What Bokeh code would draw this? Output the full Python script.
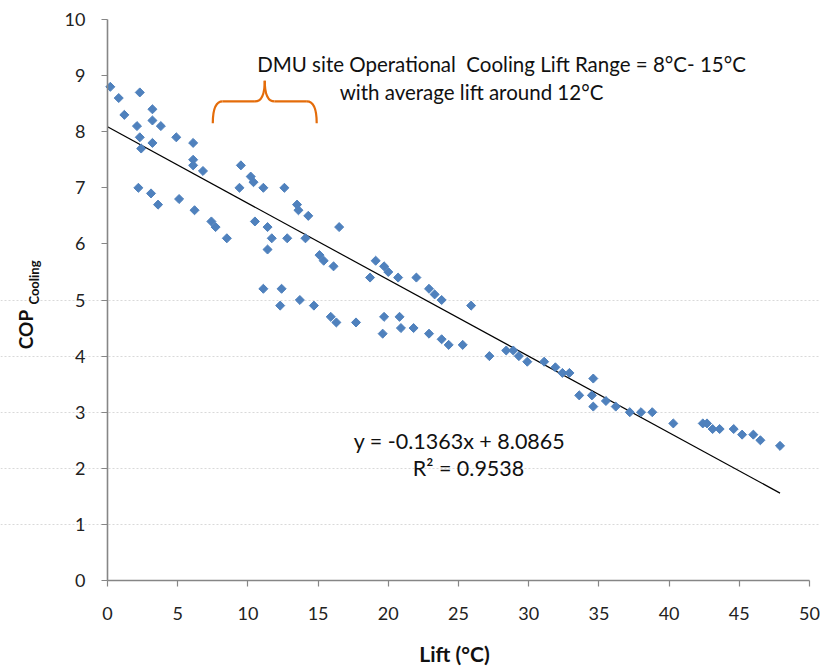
from bokeh.plotting import figure
from bokeh.models import Range1d, FixedTicker, Label, ColumnDataSource
from bokeh.embed import file_html
from bokeh.resources import INLINE
import numpy as np

# ---- data ----
lift = [0.2, 0.8, 1.2, 2.3, 2.1, 3.2, 3.2, 3.8, 2.3, 4.9, 6.1, 3.2, 2.4, 6.1, 6.1, 6.8,
        9.5, 10.2, 10.4, 9.4, 11.1, 12.6, 13.5, 13.6, 14.3, 10.5, 11.4, 11.7, 12.8, 14.1,
        16.5, 11.4, 15.1, 15.4, 16.1, 19.1, 19.7, 20.0, 18.7, 20.7, 22.0, 22.9, 23.3,
        23.8, 25.9,
        2.2, 3.1, 3.6, 5.1, 6.2, 7.4, 7.7, 8.5, 11.1, 12.4, 12.3, 13.7, 14.7, 15.9, 16.3,
        17.7, 19.7, 20.8, 19.6, 20.9, 21.8, 22.9, 23.8, 24.3, 25.3, 27.2, 28.4, 28.9,
        29.3, 29.9, 31.1, 31.9, 32.4, 32.9, 34.6, 33.6, 34.5, 34.6, 35.5, 36.2, 37.2,
        38.0, 38.8, 40.3, 42.4, 42.7, 43.1, 43.6, 44.6, 45.2, 46.0, 46.5, 47.9]
cop = [8.8, 8.6, 8.3, 8.7, 8.1, 8.4, 8.2, 8.1, 7.9, 7.9, 7.8, 7.8, 7.7, 7.5, 7.4, 7.3,
       7.4, 7.2, 7.1, 7.0, 7.0, 7.0, 6.7, 6.6, 6.5, 6.4, 6.3, 6.1, 6.1, 6.1,
       6.3, 5.9, 5.8, 5.7, 5.6, 5.7, 5.6, 5.5, 5.4, 5.4, 5.4, 5.2, 5.1,
       5.0, 4.9,
       7.0, 6.9, 6.7, 6.8, 6.6, 6.4, 6.3, 6.1, 5.2, 5.2, 4.9, 5.0, 4.9, 4.7, 4.6,
       4.6, 4.7, 4.7, 4.4, 4.5, 4.5, 4.4, 4.3, 4.2, 4.2, 4.0, 4.1, 4.1,
       4.0, 3.9, 3.9, 3.8, 3.7, 3.7, 3.6, 3.3, 3.3, 3.1, 3.2, 3.1, 3.0,
       3.0, 3.0, 2.8, 2.8, 2.8, 2.7, 2.7, 2.7, 2.6, 2.6, 2.5, 2.4]
slope = -0.1363
intercept = 8.0865
r2 = 0.9538
x_ticks = [0, 5, 10, 15, 20, 25, 30, 35, 40, 45, 50]
y_ticks = [0, 1, 2, 3, 4, 5, 6, 7, 8, 9, 10]
grid_ticks = [1, 2, 3, 4, 5]
brace_range = [7.5, 14.9]   # operational lift range marked by the brace

FONT = "Lato"
BLUE = "#4F81BD"
ORANGE = "#E46C0A"
AX = "#868686"
TXT = "#111111"

# the frame fills the whole canvas; axes are pinned at x=0 / y=0 and bounded
W, H = 820, 669
LEFT, RIGHT, TOP, BOTTOM = 107, 11, 19, 89
xpx = (W - RIGHT - LEFT) / 50.0
ypx = (H - TOP - BOTTOM) / 10.0
x_start = -LEFT / xpx
x_end = 50 + RIGHT / xpx
y_start = -BOTTOM / ypx
y_end = 10 + TOP / ypx

p = figure(width=W, height=H, output_backend="svg", toolbar_location=None,
           x_range=Range1d(x_start, x_end), y_range=Range1d(y_start, y_end),
           min_border_left=0, min_border_right=0, min_border_top=0,
           min_border_bottom=0)
p.outline_line_color = None
p.background_fill_color = "white"
p.border_fill_color = "white"

for ax in (p.xaxis[0], p.yaxis[0]):
    ax.fixed_location = 0
    ax.axis_line_color = AX
    ax.axis_line_width = 1.6
    ax.major_tick_line_color = AX
    ax.major_tick_line_width = 1.2
    ax.major_tick_out = 6
    ax.major_tick_in = 0
    ax.minor_tick_line_color = None
    ax.major_label_text_font = FONT
    ax.major_label_text_font_size = "18px"
    ax.major_label_text_color = "#222222"
p.xaxis.ticker = FixedTicker(ticks=x_ticks)
p.yaxis.ticker = FixedTicker(ticks=y_ticks)
p.xaxis.bounds = (0, 50)
p.yaxis.bounds = (0, 10)
p.xaxis.major_label_standoff = 20
p.yaxis.major_label_standoff = 16

p.xgrid.grid_line_color = None
p.ygrid.ticker = FixedTicker(ticks=grid_ticks)
p.ygrid.bounds = (0, 50)
p.ygrid.grid_line_color = "#D9D9D9"
p.ygrid.grid_line_dash = "2 2"
p.ygrid.grid_line_width = 1


def px_x(px):
    return (px - LEFT) / xpx


def px_y(py):
    return (H - BOTTOM - py) / ypx


# axis titles
p.add_layout(Label(x=px_x(454), y=px_y(653), text="Lift (°C)", text_font=FONT,
                   text_font_style="bold", text_font_size="21px", text_align="center",
                   text_baseline="middle", text_color=TXT))
p.add_layout(Label(x=px_x(25), y=px_y(329), text="COP", angle=np.pi / 2, text_font=FONT,
                   text_font_style="bold", text_font_size="19px", text_align="center",
                   text_baseline="middle", text_color=TXT))
p.add_layout(Label(x=px_x(33), y=px_y(282), text="Cooling", angle=np.pi / 2,
                   text_font=FONT, text_font_style="bold", text_font_size="13px",
                   text_align="center", text_baseline="middle", text_color=TXT))

# trend line
xs = np.array([0.0, max(lift)])
p.line(xs, intercept + slope * xs, line_color="black", line_width=1.2)

# points
src = ColumnDataSource(dict(x=lift, y=cop))
p.scatter("x", "y", source=src, marker="square", size=6.4, angle=np.pi / 4,
          fill_color=BLUE, line_color=BLUE, line_width=1)

# equation text
p.add_layout(Label(x=px_x(459), y=px_y(440), text=f"y = {slope:.4f}x + {intercept:.4f}",
                   text_font=FONT, text_font_size="21.5px", text_align="center",
                   text_baseline="middle", text_color=TXT))
p.add_layout(Label(x=px_x(468), y=px_y(467), text=f"R² = {r2:.4f}",
                   text_font=FONT, text_font_size="21.5px", text_align="center",
                   text_baseline="middle", text_color=TXT))

# annotation
p.add_layout(Label(x=px_x(501), y=px_y(63),
                   text="DMU site Operational\u00a0 Cooling Lift Range = 8°C- 15°C",
                   text_font=FONT, text_font_size="20.5px", text_align="center",
                   text_baseline="middle", text_color=TXT))
p.add_layout(Label(x=px_x(471), y=px_y(91), text="with average lift around 12°C",
                   text_font=FONT, text_font_size="20.5px", text_align="center",
                   text_baseline="middle", text_color=TXT))

# curly brace
x0, x1 = brace_range
xm = (x0 + x1) / 2
yb, yh, yt = 8.15, 8.54, 8.91
dx = 0.7
segs = [
    (x0, yb, x0 + dx, yh, x0, yh),
    (xm - dx, yh, xm, yt, xm, yh),
    (xm, yt, xm + dx, yh, xm, yh),
    (x1 - dx, yh, x1, yb, x1, yh),
]
p.quadratic(x0=[s[0] for s in segs], y0=[s[1] for s in segs],
            x1=[s[2] for s in segs], y1=[s[3] for s in segs],
            cx=[s[4] for s in segs], cy=[s[5] for s in segs],
            line_color=ORANGE, line_width=2.2)
p.segment(x0=[x0 + dx, xm + dx], y0=[yh, yh], x1=[xm - dx, x1 - dx], y1=[yh, yh],
          line_color=ORANGE, line_width=2.2)

open("out.html", "w").write(file_html(p, INLINE))
